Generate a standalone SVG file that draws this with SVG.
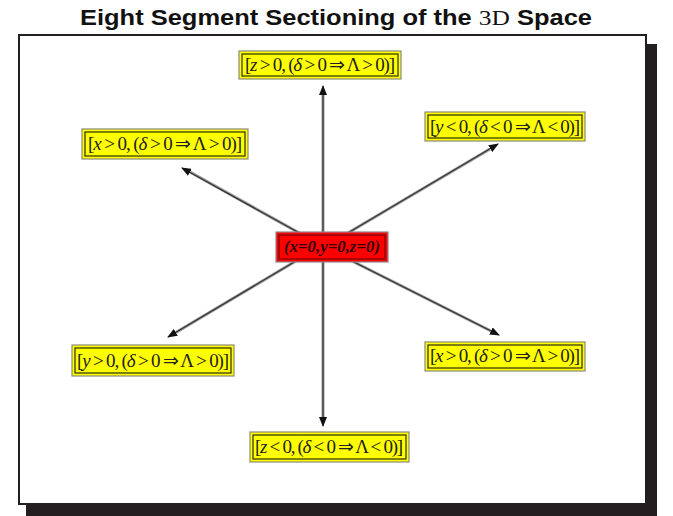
<svg xmlns="http://www.w3.org/2000/svg" width="673" height="516" viewBox="0 0 673 516">
<defs>
<marker id="ah" markerWidth="10" markerHeight="8" refX="9" refY="4" orient="auto" markerUnits="userSpaceOnUse">
<path d="M0,0 L10,4 L0,8 Z" fill="#111"/>
</marker>
<style>
.title{font-family:"Liberation Sans","DejaVu Sans",sans-serif;font-weight:bold;font-size:22px;fill:#111}
.serif{font-family:"Liberation Serif",serif;font-weight:normal}
.yo{fill:#ffff00;stroke:#8a8a7a;stroke-width:1.2}
.yi{fill:none;stroke:#2a2a10;stroke-width:1.2}
.lbl{font-family:"Liberation Serif","Times New Roman",serif;font-size:19px;fill:#222}
.it{font-style:italic}
.ro{fill:#ff0000;stroke:#8a8a8a;stroke-width:1.2}
.ri{fill:none;stroke:#551111;stroke-width:1}
.clbl{font-family:"Liberation Serif",serif;font-size:16px;font-weight:bold;font-style:italic;fill:#330000}
.c1{stroke:#9a9a9a;stroke-width:3;fill:none}
.c2{stroke:#333;stroke-width:1.2;fill:none}
</style>
</defs>
<rect width="673" height="516" fill="#fff"/>
<text class="title" x="336" y="25" text-anchor="middle" textLength="512" lengthAdjust="spacingAndGlyphs">Eight Segment Sectioning of the <tspan class="serif">3D</tspan> Space</text>
<g id="frame">
<rect x="26" y="44" width="631" height="472" fill="#231f20"/>
<rect x="19" y="35" width="627" height="469" fill="#fff" stroke="#231f20" stroke-width="2"/>
</g>
<g id="connectors">
<line class="c1" x1="323" y1="240" x2="323" y2="92"/>
<line class="c2" x1="323" y1="240" x2="323" y2="86" marker-end="url(#ah)"/>
<line class="c1" x1="323" y1="255" x2="323" y2="419"/>
<line class="c2" x1="323" y1="255" x2="323" y2="426" marker-end="url(#ah)"/>
<line class="c1" x1="312" y1="240" x2="190" y2="172"/>
<line class="c2" x1="312" y1="240" x2="182" y2="168" marker-end="url(#ah)"/>
<line class="c1" x1="336" y1="240" x2="490" y2="149"/>
<line class="c2" x1="336" y1="240" x2="498" y2="144" marker-end="url(#ah)"/>
<line class="c1" x1="306" y1="255" x2="175" y2="333"/>
<line class="c2" x1="306" y1="255" x2="168" y2="337" marker-end="url(#ah)"/>
<line class="c1" x1="340" y1="255" x2="491" y2="331"/>
<line class="c2" x1="340" y1="255" x2="499" y2="335" marker-end="url(#ah)"/>
</g>
<g id="center">
<rect class="ro" x="276" y="232" width="112" height="30"/>
<rect class="ri" x="279" y="235" width="106" height="24"/>
<text class="clbl" x="332" y="252" text-anchor="middle" textLength="96" lengthAdjust="spacingAndGlyphs">(x=0,y=0,z=0)</text>
</g>
<g id="zpos">
<rect class="yo" x="239" y="51" width="162" height="28"/>
<rect class="yi" x="242" y="54" width="156" height="22"/>
<text class="lbl" x="320" y="71" text-anchor="middle" textLength="150" lengthAdjust="spacing">[<tspan class="it">z</tspan> &gt; 0, (<tspan class="it">δ</tspan> &gt; 0 ⇒ Λ &gt; 0)]</text>
</g>
<g id="xpos1">
<rect class="yo" x="82" y="129" width="166" height="30"/>
<rect class="yi" x="85" y="132" width="160" height="24"/>
<text class="lbl" x="165" y="150" text-anchor="middle" textLength="154" lengthAdjust="spacing">[<tspan class="it">x</tspan> &gt; 0, (<tspan class="it">δ</tspan> &gt; 0 ⇒ Λ &gt; 0)]</text>
</g>
<g id="yneg">
<rect class="yo" x="425" y="112" width="160" height="29"/>
<rect class="yi" x="428" y="115" width="154" height="23"/>
<text class="lbl" x="505" y="133" text-anchor="middle" textLength="150" lengthAdjust="spacing">[<tspan class="it">y</tspan> &lt; 0, (<tspan class="it">δ</tspan> &lt; 0 ⇒ Λ &lt; 0)]</text>
</g>
<g id="ypos">
<rect class="yo" x="72" y="345" width="162" height="31"/>
<rect class="yi" x="75" y="348" width="156" height="25"/>
<text class="lbl" x="153" y="367" text-anchor="middle" textLength="152" lengthAdjust="spacing">[<tspan class="it">y</tspan> &gt; 0, (<tspan class="it">δ</tspan> &gt; 0 ⇒ Λ &gt; 0)]</text>
</g>
<g id="xpos2">
<rect class="yo" x="425" y="342" width="160" height="29"/>
<rect class="yi" x="428" y="345" width="154" height="23"/>
<text class="lbl" x="505" y="362" text-anchor="middle" textLength="150" lengthAdjust="spacing">[<tspan class="it">x</tspan> &gt; 0, (<tspan class="it">δ</tspan> &gt; 0 ⇒ Λ &gt; 0)]</text>
</g>
<g id="zneg">
<rect class="yo" x="250" y="432" width="159" height="30"/>
<rect class="yi" x="253" y="435" width="153" height="24"/>
<text class="lbl" x="329" y="453" text-anchor="middle" textLength="148" lengthAdjust="spacing">[<tspan class="it">z</tspan> &lt; 0, (<tspan class="it">δ</tspan> &lt; 0 ⇒ Λ &lt; 0)]</text>
</g>
</svg>
